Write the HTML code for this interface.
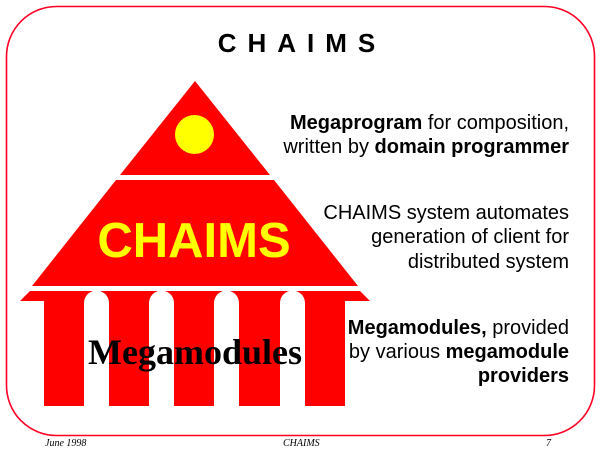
<!DOCTYPE html>
<html><head><style>
html,body{margin:0;padding:0;background:#fff;width:600px;height:450px;overflow:hidden}
</style></head><body>
<svg width="600" height="450" viewBox="0 0 600 450" xmlns="http://www.w3.org/2000/svg">
<rect x="6.5" y="6.5" width="588" height="429" rx="50" ry="50" fill="none" stroke="#ff0026" stroke-width="1.6"/>
<text x="302" y="52" text-anchor="middle" font-family="Liberation Sans, sans-serif" font-weight="bold" font-size="26" letter-spacing="11">CHAIMS</text>
<polygon points="195,81 270,175 120,175" fill="#ff0000"/>
<circle cx="194.5" cy="134.5" r="19.5" fill="#ffff00"/>
<polygon points="116,180 274,180 358,286 32,286" fill="#ff0000"/>
<text x="194" y="257" text-anchor="middle" font-family="Liberation Sans, sans-serif" font-weight="bold" font-size="49" fill="#ffff00">CHAIMS</text>
<polygon points="30,291 360,291 370,301 20,301" fill="#ff0000"/>
<rect x="44" y="291" width="301" height="115" fill="#ff0000"/>
<g fill="#fff">
<path d="M84,406 V303 a12,12 0 0 1 25,0 V406 Z"/>
<path d="M149,406 V303 a12,12 0 0 1 25,0 V406 Z"/>
<path d="M214,406 V303 a12,12 0 0 1 25,0 V406 Z"/>
<path d="M280,406 V303 a12,12 0 0 1 25,0 V406 Z"/>
</g>
<text x="195" y="364" text-anchor="middle" font-family="Liberation Serif, serif" font-weight="bold" font-size="36">Megamodules</text>
<g font-family="Liberation Sans, sans-serif" font-size="20" text-anchor="end">
<text x="569" y="129"><tspan font-weight="bold">Megaprogram</tspan> for composition,</text>
<text x="569" y="153">written by <tspan font-weight="bold">domain programmer</tspan></text>
<text x="569" y="219">CHAIMS system automates</text>
<text x="569" y="243">generation of client for</text>
<text x="569" y="268">distributed system</text>
<text x="569" y="334"><tspan font-weight="bold">Megamodules,</tspan> provided</text>
<text x="569" y="358">by various <tspan font-weight="bold">megamodule</tspan></text>
<text x="569" y="382" font-weight="bold">providers</text>
</g>
<g font-family="Liberation Serif, serif" font-style="italic" font-size="10">
<text x="45" y="446">June 1998</text>
<text x="283" y="446">CHAIMS</text>
<text x="546" y="446">7</text>
</g>
</svg>
</body></html>
